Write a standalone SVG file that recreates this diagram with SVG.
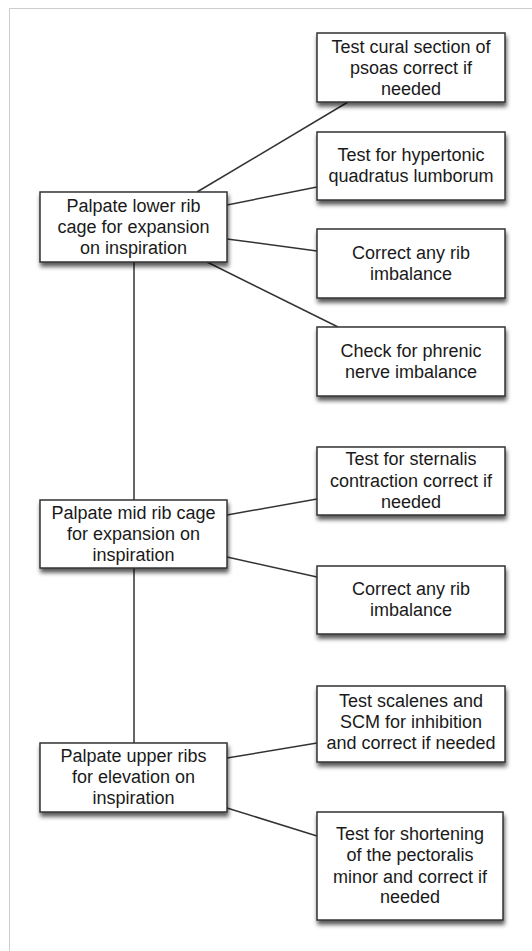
<svg xmlns="http://www.w3.org/2000/svg" width="532" height="951" viewBox="0 0 532 951">
<defs>
<style>
.box{fill:#fff;stroke:#333;stroke-width:1.5;filter:url(#sh)}
.t{font-family:"Liberation Sans",Arial,sans-serif;font-size:18px;fill:#1a1a1a;text-anchor:middle}
.c{stroke:#333;stroke-width:1.5;fill:none}
</style>
<filter id="sh" x="-10%" y="-10%" width="125%" height="140%">
<feDropShadow dx="1" dy="4" stdDeviation="2" flood-color="#000" flood-opacity="0.65"/>
</filter>
</defs>
<rect width="532" height="951" fill="#fff"/>
<path d="M9.5 951 V8.5 H532" fill="none" stroke="#ccc" stroke-width="1"/>
<g id="connectors">
<line class="c" x1="134" y1="262" x2="134" y2="500"/>
<line class="c" x1="134" y1="568" x2="134" y2="743"/>
<line class="c" x1="197" y1="192" x2="348" y2="102"/>
<line class="c" x1="227" y1="205" x2="317" y2="187"/>
<line class="c" x1="227" y1="239" x2="317" y2="251"/>
<line class="c" x1="207" y1="262" x2="338" y2="327"/>
<line class="c" x1="227" y1="515" x2="317" y2="499"/>
<line class="c" x1="227" y1="557" x2="317" y2="577"/>
<line class="c" x1="227" y1="758" x2="317" y2="743"/>
<line class="c" x1="227" y1="808" x2="317" y2="836"/>
</g>
<g id="lower">
<rect class="box" x="40" y="192" width="187" height="70"/>
<text class="t"><tspan x="133.5" y="212">Palpate lower rib</tspan><tspan x="133.5" y="233">cage for expansion</tspan><tspan x="133.5" y="254">on inspiration</tspan></text>
</g>
<g id="mid">
<rect class="box" x="40" y="500" width="187" height="68"/>
<text class="t"><tspan x="133.5" y="519">Palpate mid rib cage</tspan><tspan x="133.5" y="540">for expansion on</tspan><tspan x="133.5" y="561">inspiration</tspan></text>
</g>
<g id="upper">
<rect class="box" x="40" y="743" width="187" height="69"/>
<text class="t"><tspan x="133.5" y="762">Palpate upper ribs</tspan><tspan x="133.5" y="783">for elevation on</tspan><tspan x="133.5" y="804">inspiration</tspan></text>
</g>
<g id="psoas">
<rect class="box" x="317" y="33" width="188" height="69"/>
<text class="t"><tspan x="411" y="53">Test cural section of</tspan><tspan x="411" y="74">psoas correct if</tspan><tspan x="411" y="95">needed</tspan></text>
</g>
<g id="quadratus">
<rect class="box" x="317" y="132" width="188" height="68"/>
<text class="t"><tspan x="411" y="161">Test for hypertonic</tspan><tspan x="411" y="182">quadratus lumborum</tspan></text>
</g>
<g id="rib1">
<rect class="box" x="317" y="229" width="188" height="69"/>
<text class="t"><tspan x="411" y="259">Correct any rib</tspan><tspan x="411" y="280">imbalance</tspan></text>
</g>
<g id="phrenic">
<rect class="box" x="317" y="327" width="188" height="69"/>
<text class="t"><tspan x="411" y="357">Check for phrenic</tspan><tspan x="411" y="378">nerve imbalance</tspan></text>
</g>
<g id="sternalis">
<rect class="box" x="317" y="447" width="188" height="68"/>
<text class="t"><tspan x="411" y="465">Test for sternalis</tspan><tspan x="411" y="487">contraction correct if</tspan><tspan x="411" y="508">needed</tspan></text>
</g>
<g id="rib2">
<rect class="box" x="317" y="566" width="188" height="68"/>
<text class="t"><tspan x="411" y="595">Correct any rib</tspan><tspan x="411" y="616">imbalance</tspan></text>
</g>
<g id="scalenes">
<rect class="box" x="317" y="686" width="188" height="76"/>
<text class="t"><tspan x="411" y="707">Test scalenes and</tspan><tspan x="411" y="728">SCM for inhibition</tspan><tspan x="411" y="749">and correct if needed</tspan></text>
</g>
<g id="pectoralis">
<rect class="box" x="317" y="812" width="186" height="108"/>
<text class="t"><tspan x="410" y="840">Test for shortening</tspan><tspan x="410" y="861">of the pectoralis</tspan><tspan x="410" y="883">minor and correct if</tspan><tspan x="410" y="903">needed</tspan></text>
</g>
</svg>
